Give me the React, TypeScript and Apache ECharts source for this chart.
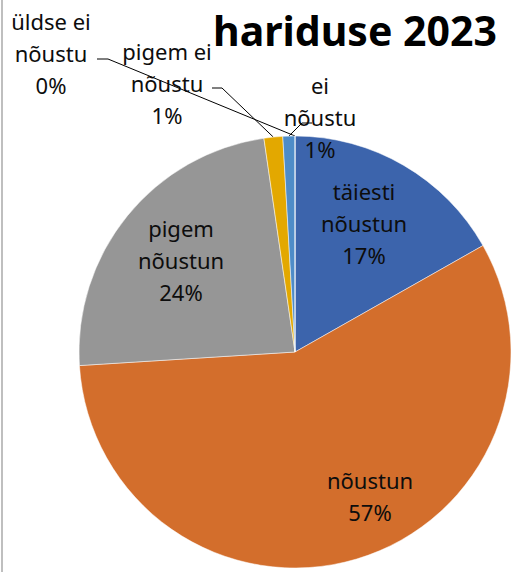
import React, { useEffect, useRef } from "react";
import * as echarts from "echarts";

const categories = [
  "täiesti nõustun",
  "nõustun",
  "pigem nõustun",
  "pigem ei nõustu",
  "ei nõustu",
  "üldse ei nõustu",
];
const values = [16.8, 57.2, 23.7, 1.4, 0.9, 0];
const colors = ["#3C64AC", "#D36E2C", "#969696", "#E3A800", "#4E8CC8", "#5E9A3C"];
const titleText = "hariduse 2023";

// label layout (label block centres) and leader-line bends
const labelCentres: number[][] = [
  [364, 223],
  [370, 496],
  [181, 260],
  [167, 83],
  [320, 117],
  [51, 53],
];
const leaderBends: (number[][] | null)[] = [
  null,
  null,
  null,
  [[222, 88], [212, 88]],
  [[302, 123], [312, 123]],
  [[108, 59], [97, 59]],
];

const FONT = "'Noto Sans', 'Open Sans', sans-serif";

function wrapName(n: string): string {
  const i = n.lastIndexOf(" ");
  return i < 0 ? n : n.slice(0, i) + "\n" + n.slice(i + 1);
}

export default function App() {
  const ref = useRef<HTMLDivElement>(null);
  useEffect(() => {
    if (!ref.current) return;
    const chart = echarts.init(ref.current, null, { renderer: "svg" });
    const data = categories.map((name, i) => {
      const outside = leaderBends[i] !== null;
      return {
        name,
        value: values[i],
        itemStyle: { color: colors[i] },
        label: { position: outside ? "outside" : "inside" },
        labelLine: { show: outside },
      };
    });
    chart.setOption({
      animation: false,
      backgroundColor: "#ffffff",
      title: {
        text: titleText,
        left: 213,
        top: 9,
        padding: 0,
        textStyle: {
          fontFamily: FONT,
          fontWeight: "bold",
          fontSize: 41,
          color: "#000000",
        },
      },
      graphic: [
        {
          type: "rect",
          shape: { x: 1, y: 0, width: 2, height: 572 },
          style: { fill: "#BFBFBF" },
          silent: true,
        },
      ],
      series: [
        {
          type: "pie",
          center: [295, 352],
          radius: 216,
          startAngle: 90,
          clockwise: true,
          avoidLabelOverlap: false,
          data,
          itemStyle: { borderColor: "#ffffff", borderWidth: 0.5 },
          label: {
            show: true,
            fontFamily: FONT,
            fontSize: 22,
            lineHeight: 32,
            color: "#0d0d0d",
            align: "center",
            formatter: (p: any) =>
              wrapName(p.name) + "\n" + Math.round(p.percent) + "%",
          },
          labelLine: {
            show: true,
            lineStyle: { color: "#000000", width: 1 },
          },
          labelLayout: (p: any) => {
            const i = p.dataIndex;
            const c = labelCentres[i];
            const res: any = {
              x: c[0],
              y: c[1],
              align: "center",
              verticalAlign: "middle",
            };
            const b = leaderBends[i];
            if (b && p.labelLinePoints) {
              res.labelLinePoints = [p.labelLinePoints[0], b[0], b[1]];
            }
            return res;
          },
        },
      ],
    });
    return () => chart.dispose();
  }, []);
  return (
    <div
      ref={ref}
      style={{ position: "absolute", left: 0, top: 0, width: 512, height: 572 }}
    />
  );
}
